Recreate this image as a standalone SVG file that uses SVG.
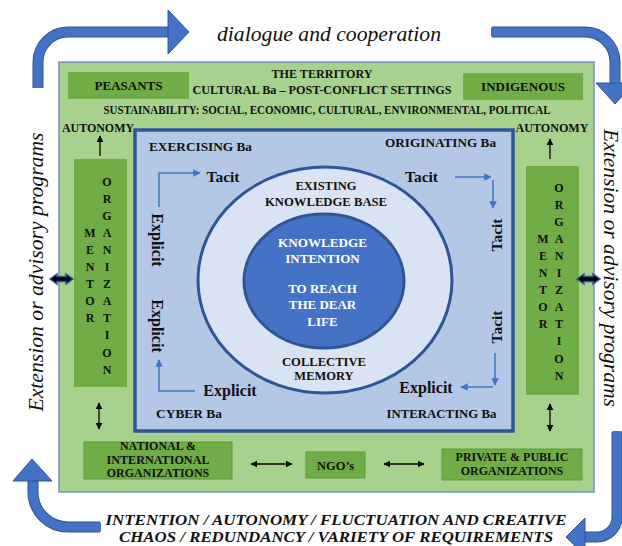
<svg xmlns="http://www.w3.org/2000/svg" width="622" height="546" viewBox="0 0 622 546">
<style>
.b{font-family:"Liberation Serif","Times New Roman",serif;font-weight:bold;fill:#111;text-anchor:middle}
.w{fill:#fff}
.it{font-family:"Liberation Serif","Times New Roman",serif;font-style:italic;fill:#111;text-anchor:middle}
.box{fill:#70ad47}
.bbox{fill:#70ad47;stroke:#5a9a3a;stroke-width:1}
.bl{fill:none;stroke:#4472c4;stroke-width:1.5}
.bk{fill:none;stroke:#000;stroke-width:1.3}
.bandO{fill:none;stroke:#2f5597;stroke-width:11}
.bandI{fill:none;stroke:#4472c4;stroke-width:9}
.head{fill:#4472c4;stroke:#2f5597;stroke-width:1}
.dbl{fill:#000;stroke:#2f5597;stroke-width:1.5}
</style>
<defs>
<marker id="ab" viewBox="0 0 10 10" refX="9" refY="5" markerWidth="5" markerHeight="5" orient="auto-start-reverse"><path d="M0,0 L10,5 L0,10 z" fill="#4472c4"/></marker>
<marker id="ak" viewBox="0 0 10 10" refX="9" refY="5" markerWidth="5.5" markerHeight="5.5" orient="auto-start-reverse"><path d="M0,0 L10,5 L0,10 z" fill="#000"/></marker>
</defs>

<g id="outer-arrows">
<path class="bandO" d="M38,88 V62 A30,30 0 0 1 68,32 H170"/>
<path class="bandI" d="M38,88 V62 A30,30 0 0 1 68,32 H171"/>
<polygon class="head" points="168,10 189,32 168,54"/>
<path class="bandO" d="M492,32 H585 A30,30 0 0 1 615,62 V84"/>
<path class="bandI" d="M491,32 H585 A30,30 0 0 1 615,62 V85"/>
<polygon class="head" points="596,83 634,83 615,104"/>
<path class="bandO" d="M617,432 V517 A20,20 0 0 1 597,537 H584"/>
<path class="bandI" d="M617,431 V517 A20,20 0 0 1 597,537 H583"/>
<polygon class="head" points="585,518 585,556 566,537"/>
<path class="bandO" d="M100,527 H68 A35,35 0 0 1 33,492 V480"/>
<path class="bandI" d="M101,527 H68 A35,35 0 0 1 33,492 V479"/>
<polygon class="head" points="13,481 52,481 32,459"/>
</g>

<g id="outer-texts">
<text class="it" x="329" y="41" font-size="21.5" textLength="224" lengthAdjust="spacingAndGlyphs">dialogue and cooperation</text>
<text class="it" font-size="21.5" transform="translate(43,272) rotate(-90)" textLength="279" lengthAdjust="spacingAndGlyphs">Extension or advisory programs</text>
<text class="it" font-size="20.5" transform="translate(604,268) rotate(90)" textLength="278" lengthAdjust="spacingAndGlyphs">Extension or advisory programs</text>
<text class="b" font-style="italic" x="336" y="525" font-size="15.5" textLength="461" lengthAdjust="spacingAndGlyphs">INTENTION / AUTONOMY / FLUCTUATION AND CREATIVE</text>
<text class="b" font-style="italic" x="336" y="542" font-size="15.5" textLength="434" lengthAdjust="spacingAndGlyphs">CHAOS / REDUNDANCY / VARIETY OF REQUIREMENTS</text>
</g>

<g id="territory">
<rect x="59" y="62" width="535" height="430" fill="#a9d18e" stroke="#7393c4" stroke-width="1.5"/>
<text class="b" x="322" y="78" font-size="12" textLength="101" lengthAdjust="spacingAndGlyphs">THE TERRITORY</text>
<text class="b" x="322" y="94" font-size="12" textLength="259" lengthAdjust="spacingAndGlyphs">CULTURAL Ba – POST-CONFLICT SETTINGS</text>
<text class="b" x="327" y="114" font-size="11.5" textLength="447" lengthAdjust="spacingAndGlyphs">SUSTAINABILITY: SOCIAL, ECONOMIC, CULTURAL, ENVIRONMENTAL, POLITICAL</text>
</g>

<g id="peasants">
<rect class="box" x="68" y="72" width="121" height="27"/>
<text class="b" x="128.5" y="90" font-size="13">PEASANTS</text>
</g>
<g id="indigenous">
<rect class="box" x="463" y="73" width="120" height="27"/>
<text class="b" x="523" y="91" font-size="13">INDIGENOUS</text>
</g>

<g id="autonomy-left"><text class="b" x="98" y="132" font-size="12" textLength="72" lengthAdjust="spacingAndGlyphs">AUTONOMY</text></g>
<g id="autonomy-right"><text class="b" x="552" y="132" font-size="12" textLength="73" lengthAdjust="spacingAndGlyphs">AUTONOMY</text></g>

<g id="mentor-left">
<rect class="box" x="74" y="159" width="53" height="228"/>
<g class="b" font-size="12">
<text x="107" y="185.5">O</text><text x="107" y="202.6">R</text><text x="107" y="219.7">G</text><text x="107" y="236.8">A</text><text x="107" y="253.9">N</text><text x="107" y="271">I</text><text x="107" y="288.1">Z</text><text x="107" y="305.2">A</text><text x="107" y="322.3">T</text><text x="107" y="339.4">I</text><text x="107" y="356.5">O</text><text x="107" y="373.6">N</text>
<text x="90" y="236.8">M</text><text x="90" y="253.9">E</text><text x="90" y="271">N</text><text x="90" y="288.1">T</text><text x="90" y="305.2">O</text><text x="90" y="322.3">R</text>
</g>
</g>

<g id="mentor-right">
<rect class="box" x="526" y="166" width="53" height="229"/>
<g class="b" font-size="12">
<text x="559" y="191.5">O</text><text x="559" y="208.6">R</text><text x="559" y="225.7">G</text><text x="559" y="242.8">A</text><text x="559" y="259.9">N</text><text x="559" y="277">I</text><text x="559" y="294.1">Z</text><text x="559" y="311.2">A</text><text x="559" y="328.3">T</text><text x="559" y="345.4">I</text><text x="559" y="362.5">O</text><text x="559" y="379.6">N</text>
<text x="543" y="242.8">M</text><text x="543" y="259.9">E</text><text x="543" y="277">N</text><text x="543" y="294.1">T</text><text x="543" y="311.2">O</text><text x="543" y="328.3">R</text>
</g>
</g>

<g id="ba-space">
<rect x="135" y="130" width="378" height="301" fill="#b4c7e7" stroke="#2f5597" stroke-width="3.5"/>
<text class="b" x="200.5" y="151" font-size="13" textLength="103" lengthAdjust="spacingAndGlyphs">EXERCISING Ba</text>
<text class="b" x="440.5" y="147" font-size="13" textLength="111" lengthAdjust="spacingAndGlyphs">ORIGINATING Ba</text>
<text class="b" x="189" y="418" font-size="13" textLength="66" lengthAdjust="spacingAndGlyphs">CYBER Ba</text>
<text class="b" x="441.5" y="418" font-size="13" textLength="110" lengthAdjust="spacingAndGlyphs">INTERACTING Ba</text>
</g>

<g id="knowledge-base">
<ellipse cx="325" cy="280" rx="127" ry="113" fill="#dae3f3" stroke="#2f5597" stroke-width="3"/>
<text class="b" x="326" y="189.5" font-size="12.5">EXISTING</text>
<text class="b" x="326" y="205.5" font-size="12.5" textLength="122" lengthAdjust="spacingAndGlyphs">KNOWLEDGE BASE</text>
<text class="b" x="324" y="365.5" font-size="12.5" textLength="84" lengthAdjust="spacingAndGlyphs">COLLECTIVE</text>
<text class="b" x="324" y="380" font-size="12.5">MEMORY</text>
</g>

<g id="intention">
<ellipse cx="324" cy="281" rx="80" ry="67" fill="#4472c4" stroke="#2f5597" stroke-width="3"/>
<g class="b w" font-size="13">
<text x="322.5" y="246.5" textLength="89" lengthAdjust="spacingAndGlyphs">KNOWLEDGE</text>
<text x="322.5" y="262.5">INTENTION</text>
<text x="322.5" y="292.5">TO REACH</text>
<text x="322.5" y="309">THE DEAR</text>
<text x="322.5" y="326">LIFE</text>
</g>
</g>

<g id="cycle-labels" class="b">
<text x="223" y="181.5" font-size="15.5">Tacit</text>
<text x="421.5" y="181.5" font-size="15.5">Tacit</text>
<text x="230" y="395.5" font-size="16">Explicit</text>
<text x="426" y="392.5" font-size="16">Explicit</text>
<text font-size="16" transform="translate(152,240) rotate(90)">Explicit</text>
<text font-size="16" transform="translate(152,326) rotate(90)">Explicit</text>
<text font-size="15.5" transform="translate(502,235) rotate(-90)">Tacit</text>
<text font-size="15.5" transform="translate(502,327) rotate(-90)">Tacit</text>
</g>

<g id="bottom-national">
<rect class="bbox" x="84" y="442" width="148" height="37"/>
<g class="b" font-size="12"><text x="158" y="450">NATIONAL &amp;</text><text x="158" y="464" textLength="103" lengthAdjust="spacingAndGlyphs">INTERNATIONAL</text><text x="158" y="477">ORGANIZATIONS</text></g>
</g>
<g id="bottom-ngo">
<rect class="bbox" x="306" y="452" width="59" height="26"/>
<text class="b" x="335.5" y="469.5" font-size="12.5">NGO’s</text>
</g>
<g id="bottom-private">
<rect class="bbox" x="442" y="449" width="140" height="31"/>
<g class="b" font-size="12"><text x="512" y="461">PRIVATE &amp; PUBLIC</text><text x="512" y="474.5">ORGANIZATIONS</text></g>
</g>

<g id="connectors">
<path class="bl" d="M159,207 V173 H200" marker-end="url(#ab)"/>
<path class="bl" d="M195,391 H159 V360" marker-end="url(#ab)"/>
<path class="bl" d="M455,177 H491" marker-end="url(#ab)"/>
<path class="bl" d="M493,180 V208" marker-end="url(#ab)"/>
<path class="bl" d="M495,353 V385" marker-end="url(#ab)"/>
<path class="bl" d="M493,387 H461" marker-end="url(#ab)"/>
<path class="bk" d="M100,156 V136" marker-end="url(#ak)"/>
<path class="bk" d="M550,159 V139" marker-end="url(#ak)"/>
<path class="bk" d="M99,403 V429" marker-start="url(#ak)" marker-end="url(#ak)"/>
<path class="bk" d="M550,404 V431" marker-start="url(#ak)" marker-end="url(#ak)"/>
<path class="bk" d="M251,464 H292" marker-start="url(#ak)" marker-end="url(#ak)"/>
<path class="bk" d="M384,464 H424" marker-start="url(#ak)" marker-end="url(#ak)"/>
<polygon class="dbl" points="50,279 57,274 57,276.5 66,276.5 66,274 73,279 66,284 66,281.5 57,281.5 57,284"/>
<polygon class="dbl" points="577,279 584,274 584,276.5 593,276.5 593,274 600,279 593,284 593,281.5 584,281.5 584,284"/>
</g>
</svg>
